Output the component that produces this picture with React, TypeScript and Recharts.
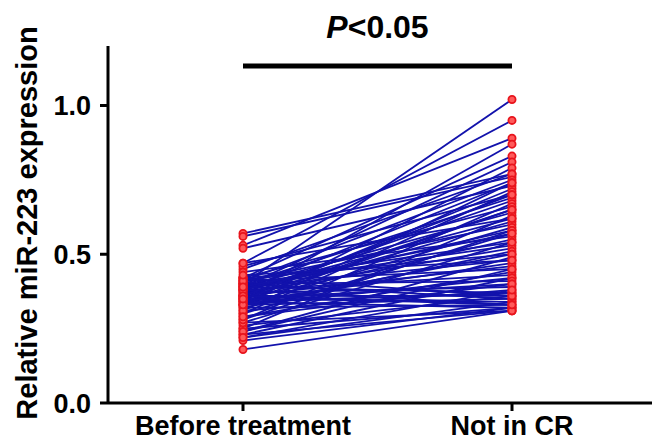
import { CartesianGrid, Label, Line, LineChart, ReferenceLine, XAxis, YAxis } from 'recharts';

const groups = ["Before treatment", "Not in CR"];

const beforeTreatment = [
  0.40, 0.47, 0.53, 0.36, 0.42, 0.39, 0.33, 0.57, 0.56, 0.45,
  0.41, 0.38, 0.52, 0.35, 0.30, 0.46, 0.40, 0.37, 0.28, 0.42,
  0.34, 0.39, 0.25, 0.47, 0.36, 0.41, 0.33, 0.38, 0.30, 0.44,
  0.35, 0.27, 0.40, 0.37, 0.32, 0.42, 0.24, 0.39, 0.34, 0.36,
  0.41, 0.29, 0.38, 0.33, 0.23, 0.40, 0.35, 0.37, 0.31, 0.39,
  0.34, 0.26, 0.36, 0.33, 0.40, 0.22, 0.35, 0.38, 0.32, 0.21,
  0.25, 0.34, 0.18, 0.27, 0.23, 0.42, 0.36, 0.31, 0.28, 0.38,
  0.24, 0.41, 0.33, 0.36, 0.29, 0.39, 0.35, 0.22, 0.43,
];

const notInCR = [
  1.02, 0.95, 0.89, 0.87, 0.83, 0.81, 0.79, 0.77, 0.76, 0.77,
  0.75, 0.74, 0.73, 0.72, 0.71, 0.70, 0.69, 0.68, 0.67, 0.66,
  0.65, 0.64, 0.63, 0.62, 0.61, 0.60, 0.59, 0.58, 0.57, 0.56,
  0.55, 0.54, 0.53, 0.52, 0.51, 0.50, 0.49, 0.48, 0.47, 0.46,
  0.45, 0.44, 0.43, 0.42, 0.42, 0.41, 0.40, 0.39, 0.38, 0.37,
  0.37, 0.36, 0.36, 0.35, 0.35, 0.34, 0.34, 0.33, 0.33, 0.32,
  0.32, 0.32, 0.31, 0.31, 0.31, 0.36, 0.33, 0.74, 0.58, 0.62,
  0.45, 0.54, 0.50, 0.70, 0.40, 0.57, 0.65, 0.38, 0.48,
];

const yTicks = [0, 0.5, 1.0];

const keys = beforeTreatment.map((_, i) => `p${i}`);
const data = groups.map((g, gi) => {
  const row: any = { group: g };
  keys.forEach((k, i) => {
    row[k] = gi === 0 ? beforeTreatment[i] : notInCR[i];
  });
  return row;
});

const font = '"Liberation Sans", Arial, sans-serif';

const PLabel = (props: any) => {
  const vb = props.viewBox || {};
  const cx = (vb.x ?? 0) + (vb.width ?? 0) / 2;
  const y = (vb.y ?? 0) - 28;
  return (
    <text x={cx} y={y} textAnchor="middle" fontFamily={font} fontWeight="bold" fontSize={32} fill="#000">
      <tspan fontStyle="italic">P</tspan>&lt;0.05
    </text>
  );
};

const YTitle = () => (
  <text
    x={27}
    y={223}
    transform="rotate(-90 27 223)"
    textAnchor="middle"
    dominantBaseline="central"
    fontFamily={font}
    fontWeight="bold"
    fontSize={29}
    fill="#000"
  >
    Relative miR-223 expression
  </text>
);

export default function App() {
  return (
    <div style={{ width: 652, height: 447, background: '#fff' }}>
      <style>{`body{margin:0}`}</style>
      <LineChart width={652} height={447} data={data} margin={{ top: 46, right: 0, bottom: 4, left: 28 }}>
        <CartesianGrid stroke="none" />
        <XAxis
          dataKey="group"
          padding={{ left: 135, right: 140 }}
          height={40}
          axisLine={{ stroke: '#000', strokeWidth: 3 }}
          tickLine={{ stroke: '#000', strokeWidth: 3 }}
          tickSize={8}
          tickMargin={5}
          tick={{ fill: '#000', fontSize: 27, fontWeight: 'bold', fontFamily: font }}
        />
        <YAxis
          width={80}
          domain={[0, 1.2]}
          ticks={yTicks}
          tickFormatter={(v: number) => v.toFixed(1)}
          axisLine={{ stroke: '#000', strokeWidth: 3 }}
          tickLine={{ stroke: '#000', strokeWidth: 3 }}
          tickSize={8}
          tickMargin={9}
          tick={{ fill: '#000', fontSize: 27, fontWeight: 'bold', fontFamily: font }}
        >
          <Label content={<YTitle />} />
        </YAxis>
        {keys.map((k) => (
          <Line
            key={k}
            dataKey={k}
            stroke="#1212ac"
            strokeWidth={1.8}
            dot={false}
            activeDot={false}
            isAnimationActive={false}
          />
        ))}
        {keys.map((k) => (
          <Line
            key={`d${k}`}
            dataKey={k}
            stroke="none"
            dot={{ r: 3.6, stroke: '#e8141c', strokeWidth: 1.8, fill: '#ff5a5a' }}
            activeDot={false}
            isAnimationActive={false}
          />
        ))}
        <ReferenceLine
          segment={[{ x: groups[0], y: 1.133 }, { x: groups[1], y: 1.133 }]}
          stroke="#000"
          strokeWidth={5}
          ifOverflow="visible"
        >
          <Label content={<PLabel />} />
        </ReferenceLine>
      </LineChart>
    </div>
  );
}
